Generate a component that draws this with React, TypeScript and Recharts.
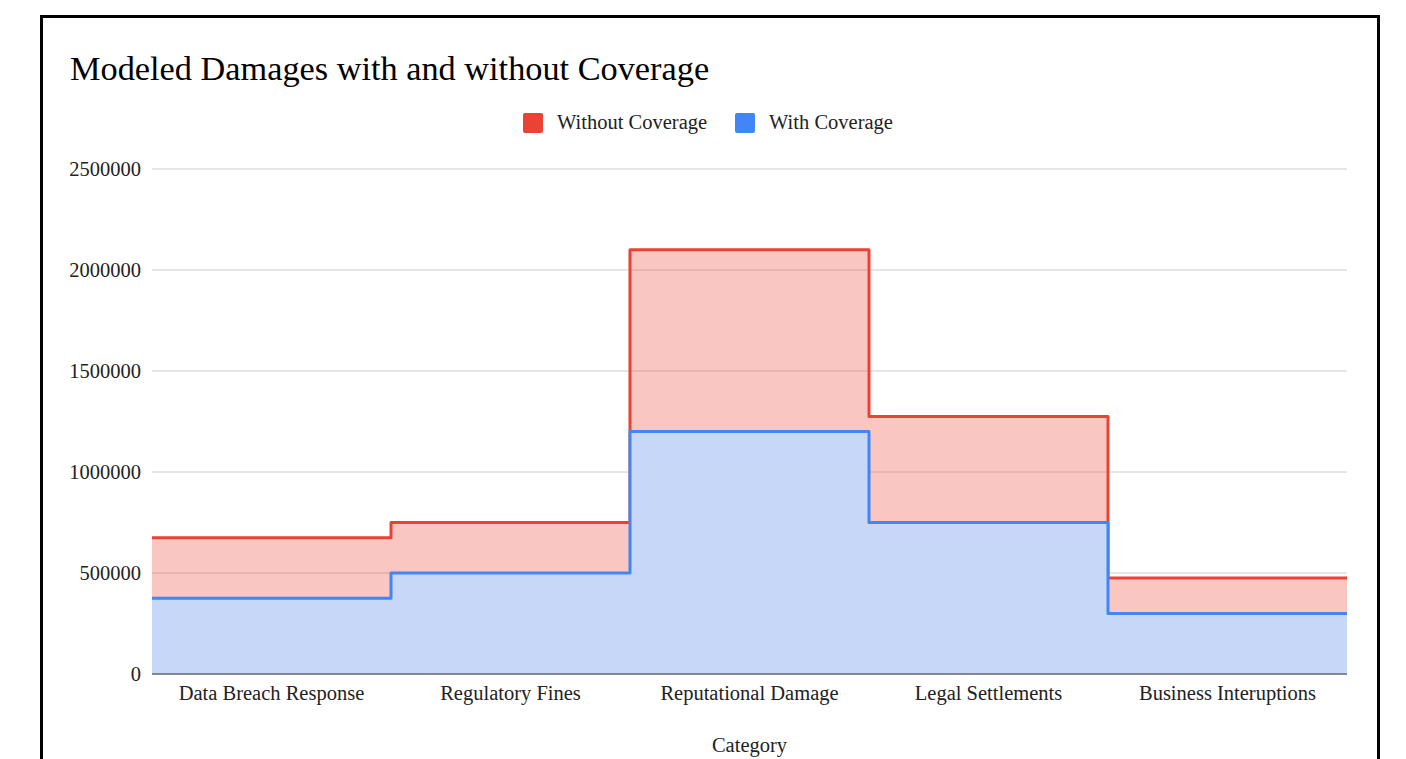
import React from 'react';
import { AreaChart, Area, XAxis, YAxis, CartesianGrid, Legend } from 'recharts';

const CATEGORIES = ['Data Breach Response', 'Regulatory Fines', 'Reputational Damage', 'Legal Settlements', 'Business Interuptions'];
const WITHOUT_COVERAGE = [675000, 750000, 2100000, 1275000, 475000];
const WITH_COVERAGE = [375000, 500000, 1200000, 750000, 300000];
const Y_TICKS = [0, 500000, 1000000, 1500000, 2000000, 2500000];

const COLORS = {
    red: '#ea4335',
    blue: '#4285f4',
    blueFill: '#c3d8fb',
    grid: '#cccccc',
    axis: '#333333',
    text: '#222222',
};

const FONT = '"Liberation Serif", "Times New Roman", serif';
const FONT_SIZE = 20.5;

// step chart: one point per category start, plus a closing point so the last step spans its band
const chartData = [
    ...CATEGORIES.map((name, i) => ({ pos: i, name, without: WITHOUT_COVERAGE[i], with: WITH_COVERAGE[i] })),
    {
        pos: CATEGORIES.length,
        name: '',
        without: WITHOUT_COVERAGE[WITHOUT_COVERAGE.length - 1],
        with: WITH_COVERAGE[WITH_COVERAGE.length - 1],
    },
];
const X_TICKS = CATEGORIES.map((_, i) => i + 0.5);

const LegendContent = () => (
    <div style={{ display: 'flex', justifyContent: 'center', alignItems: 'center', fontFamily: FONT, fontSize: FONT_SIZE, color: COLORS.text, paddingLeft: 10 }}>
        {[
            { label: 'Without Coverage', color: COLORS.red },
            { label: 'With Coverage', color: COLORS.blue },
        ].map((item, i) => (
            <div key={item.label} style={{ display: 'flex', alignItems: 'center', marginLeft: i === 0 ? 0 : 28 }}>
                <span style={{ width: 20, height: 20, borderRadius: 2, background: item.color, display: 'inline-block', marginRight: 14 }} />
                <span>{item.label}</span>
            </div>
        ))}
    </div>
);

const App: React.FC = () => {
    return (
        <div style={{ position: 'relative', width: 1390, height: 751, overflow: 'hidden' }}>
            <style>{`body { margin: 8px; overflow: hidden; }`}</style>
            <div
                style={{
                    position: 'absolute',
                    left: 32,
                    top: 7,
                    width: 1340,
                    height: 800,
                    border: '3px solid #000',
                    boxSizing: 'border-box',
                }}
            />
            <div
                style={{
                    position: 'absolute',
                    left: 62,
                    top: 41,
                    fontFamily: FONT,
                    fontSize: 34.3,
                    color: '#000',
                    whiteSpace: 'nowrap',
                }}
            >
                Modeled Damages with and without Coverage
            </div>
            <div style={{ position: 'absolute', left: 0, top: 0 }}>
                <AreaChart
                    width={1390}
                    height={751}
                    data={chartData}
                    margin={{ top: 161, right: 51, bottom: 0, left: 0 }}
                    style={{ fontFamily: FONT }}
                >
                    <CartesianGrid vertical={false} stroke={COLORS.grid} />
                    <XAxis
                        type="number"
                        dataKey="pos"
                        domain={[0, CATEGORIES.length]}
                        ticks={X_TICKS}
                        tickFormatter={(v: number) => CATEGORIES[Math.floor(v)]}
                        height={85}
                        tickLine={false}
                        tickSize={0}
                        tickMargin={11}
                        axisLine={{ stroke: COLORS.axis }}
                        tick={{ fill: COLORS.text, fontSize: FONT_SIZE }}
                        label={{ value: 'Category', position: 'insideBottom', offset: 7, fill: COLORS.text, fontSize: FONT_SIZE }}
                    />
                    <YAxis
                        type="number"
                        domain={[0, 2500000]}
                        ticks={Y_TICKS}
                        width={144}
                        axisLine={false}
                        tickLine={false}
                        tickSize={0}
                        tickMargin={11}
                        tick={{ fill: COLORS.text, fontSize: FONT_SIZE }}
                    />
                    <Legend
                        verticalAlign="middle"
                        align="center"
                        content={<LegendContent />}
                        wrapperStyle={{ top: 103, left: 0, width: 1390 }}
                    />
                    <Area
                        type="stepAfter"
                        dataKey="without"
                        name="Without Coverage"
                        stroke={COLORS.red}
                        strokeWidth={3}
                        strokeLinejoin="round"
                        fill={COLORS.red}
                        fillOpacity={0.3}
                        dot={false}
                        activeDot={false}
                        isAnimationActive={false}
                    />
                    <Area
                        type="stepAfter"
                        dataKey="with"
                        name="With Coverage"
                        stroke={COLORS.blue}
                        strokeWidth={3}
                        strokeLinejoin="round"
                        fill={COLORS.blueFill}
                        fillOpacity={0.94}
                        dot={false}
                        activeDot={false}
                        isAnimationActive={false}
                    />
                </AreaChart>
            </div>
        </div>
    );
};

export default App;
